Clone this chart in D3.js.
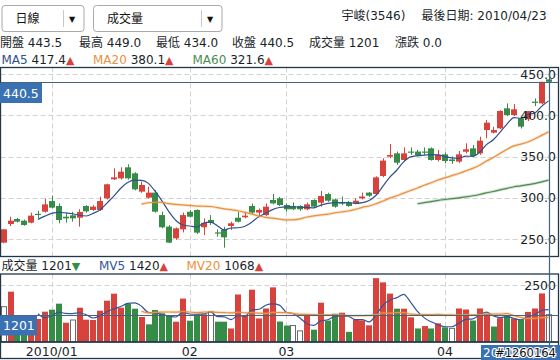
<!DOCTYPE html>
<html><head><meta charset="utf-8">
<script src="https://cdn.jsdelivr.net/npm/d3@7"></script>
<style>
html,body{margin:0;padding:0;background:#fff;}
svg{display:block;font-family:"DejaVu Sans","Noto Sans CJK TC",sans-serif;}
</style></head><body>
<svg id="c" width="560" height="360"></svg>
<script>
// ---------------- data ----------------
const dates = [
 "2009/12/23","2009/12/24","2009/12/25","2009/12/28","2009/12/29","2009/12/30","2009/12/31",
 "2010/01/04","2010/01/05","2010/01/06","2010/01/07","2010/01/08","2010/01/11","2010/01/12","2010/01/13","2010/01/14","2010/01/15",
 "2010/01/18","2010/01/19","2010/01/20","2010/01/21","2010/01/22","2010/01/25","2010/01/26","2010/01/27","2010/01/28","2010/01/29",
 "2010/02/01","2010/02/02","2010/02/03","2010/02/04","2010/02/05","2010/02/06","2010/02/08","2010/02/09","2010/02/10",
 "2010/02/22","2010/02/23","2010/02/24","2010/02/25","2010/02/26",
 "2010/03/01","2010/03/02","2010/03/03","2010/03/04","2010/03/05","2010/03/08","2010/03/09","2010/03/10","2010/03/11","2010/03/12",
 "2010/03/15","2010/03/16","2010/03/17","2010/03/18","2010/03/19","2010/03/22","2010/03/23","2010/03/24","2010/03/25","2010/03/26",
 "2010/03/29","2010/03/30","2010/03/31",
 "2010/04/01","2010/04/02","2010/04/06","2010/04/07","2010/04/08","2010/04/09","2010/04/12","2010/04/13","2010/04/14","2010/04/15","2010/04/16",
 "2010/04/19","2010/04/20","2010/04/21","2010/04/22","2010/04/23"];

const open = [245.6,268.2,274.2,272.2,269.8,280.5,283.1,296,290,277,
 278.7,275.8,290,285.2,285.2,299.3,322.3,323.5,336.9,329.6,
 307.4,300.1,306.2,279,265,250.8,261.7,283,285.2,264.2,
 273,258,260.9,265.8,275.8,276.3,290,282,279,297.3,
 299.3,291.2,290,290,286,297.3,294,304.5,298,294.3,
 294.4,293.2,299.3,306.2,304.5,326.4,349.8,353.8,345.8,356,
 356,356,359.9,345.8,352.6,346.5,343.8,355.8,359.9,353.8,
 382.1,378.9,384.1,408.4,400.3,396.3,395,416.5,414.4,443.5];
const high = [262,277,275.5,273.5,281.9,284.3,298.9,302.5,293.2,281,
 283,286,291,291,301.3,317,335.7,336.9,340.5,331,
 319.5,313.4,309.4,283.1,267,264,282,285,286,275,
 279,261.7,264.8,271,283.1,283,293,287,293,304.5,
 301,293,294.4,291,294,298,308.2,306,299,301.3,
 296,299.3,306.2,307,326,347.8,365.1,356,361.1,361,
 358,361,361,357.9,355,350,356.6,366,364,374,
 394.2,386,406,414.4,413.6,398,405,420.5,440.5,449];
const low = [245,265.7,270,266,269,275,282,287,269,269.8,
 271,265,282,284,284,298,321.5,322,322,309,
 306,299,282,263,245,249,258,276,256,254.8,
 267,252.8,239.5,261,270,275,280,278,278,292,
 290,283,285,284,285,288,289.2,295,288,291,
 289,292,298,301,303,325,348,340,344,352,
 350,352,345,344,342,341,342,353.8,350,352,
 372,378,383,399,399,384,393,411,413,434];
const close = [261.7,272.2,271,267,278.3,280.3,292,288,273,275,
 275,282.8,283.5,289.2,296,316.3,324.7,331.6,323.5,310.2,
 315.5,306.2,283.1,264.2,245.6,262.9,279,277,257.7,269.5,
 269.5,256.8,252,269,271,278.3,282,285.2,289.2,293.2,
 291.2,286,286,286,292,289.2,302.1,296.4,289.2,293.2,
 290,296.4,301.5,302.5,324.7,345,351.8,342.5,353.8,355,
 351.8,355,345.8,351.8,344.5,344.5,352.6,358.7,350.6,369.2,
 391,382.1,405.2,400.3,407.2,386.2,405,415,440.5,440.5];
const volume = [1554,2214,1000,900,1100,1012,1334,1422,1686,850,
 968,1510,982,968,1378,1818,2126,1510,1671,1466,
 1100,777,1407,1261,1158,894,1910,938,1210,1220,
 1325,894,894,595,2090,1180,2302,1035,1475,2404,
 900,725,725,490,1180,542,1730,945,1240,1290,
 447,1000,950,733,2810,2624,2130,1466,1466,1085,
 595,700,595,820,645,600,1475,1430,945,1475,
 1230,680,1050,1160,1035,975,1325,1475,2135,1201];

const priceTicks = [250, 300, 350, 400, 450];
const volumeTicks = [2500];
const monthTickDates = ["2010/01/04","2010/02/01","2010/03/01","2010/04/01"];
const monthTickLabels = ["2010/01","02","03","04"];
const maPeriods = [5, 20, 60];
const maNames = ["MA5","MA20","MA60"];
const maLegendValues = ["417.4","380.1","321.6"];
const mvPeriods = [5, 20];
const mvNames = ["MV5","MV20"];
const mvLegendValues = ["1420","1068"];
const stockName = "宇峻(3546)";
const lastDateLabel = "最後日期: 2010/04/23";
const periodOptions = ["日線"];
const indicatorOptions = ["成交量"];
const watermark = "#1260164";

// ---------------- style ----------------
const RED = "#d8423c", GREEN = "#358c47", BORDER = "#22364a", CROSS = "#45657f", BLUE_BOX = "#3a71b2";
const maColors = ["#2f4f8f", "#e8913e", "#4c8c50"];
const mvColors = ["#34549a", "#e8913e"];
const TXT = "#1b1f2a";

const svg = d3.select("#c");
const N = dates.length;
const last = N - 1;

const x = d3.scaleBand().domain(d3.range(N)).range([0, 552]).paddingInner(0.18).paddingOuter(0.09);
const cx = i => x(i) + x.bandwidth() / 2;
const y = d3.scaleLinear().domain([250, 450]).range([239, 74]);
const yv = d3.scaleLinear().domain([0, 2992]).range([342, 274]);

const P = {top: 67.5, bottom: 256.5, left: 0.5, right: 558.5};
const V = {top: 274, bottom: 342};

function movingAvg(arr, n) {
  const out = [];
  for (let i = n; i < arr.length; i++) {
    out.push({i, v: d3.mean(arr.slice(i - n + 1, i + 1))});
  }
  return out;
}

// ---------------- header ----------------
function dropdown(x0, w, sepX, label) {
  const g = svg.append("g");
  g.append("rect").attr("x", x0 + 0.5).attr("y", 5.5).attr("width", w).attr("height", 26).attr("rx", 3)
    .attr("fill", "#fff").attr("stroke", "#a9a9a9");
  g.append("line").attr("x1", sepX).attr("x2", sepX).attr("y1", 10).attr("y2", 27).attr("stroke", "#c8c8c8");
  g.append("text").attr("x", x0 + 14).attr("y", 23).attr("font-size", 12).attr("fill", "#111").text(label);
  g.append("text").attr("x", sepX + 8.5).attr("y", 22).attr("text-anchor", "middle").attr("font-size", 8).attr("fill", "#111").text("▼");
}
dropdown(1.5, 82, 63.5, periodOptions[0]);
dropdown(93, 128.5, 201.5, indicatorOptions[0]);

svg.append("text").attr("x", 341.5).attr("y", 19.5).attr("font-size", 12).attr("fill", TXT).text(stockName);
svg.append("text").attr("x", 421.5).attr("y", 19.5).attr("font-size", 12).attr("fill", TXT).text(lastDateLabel);

const quoteItems = [
  ["開盤", open[last].toFixed(1), 0],
  ["最高", high[last].toFixed(1), 79],
  ["最低", low[last].toFixed(1), 156],
  ["收盤", close[last].toFixed(1), 232],
  ["成交量", String(volume[last]), 309],
  ["漲跌", (close[last] - close[last - 1]).toFixed(1), 395]
];
quoteItems.forEach(([k, v, px]) => {
  svg.append("text").attr("x", px).attr("y", 46.5).attr("font-size", 12).attr("fill", TXT).text(k + " " + v);
});

const maLegendX = [1.5, 93, 192.5];
maNames.forEach((nm, k) => {
  const t = svg.append("text").attr("x", maLegendX[k]).attr("y", 64).attr("font-size", 12);
  t.append("tspan").attr("fill", maColors[k]).text(nm + " ");
  t.append("tspan").attr("fill", TXT).text(maLegendValues[k]);
  t.append("tspan").attr("fill", RED).attr("font-size", 11).text("▲");
});

// volume header
{
  const t = svg.append("text").attr("x", 1.5).attr("y", 270).attr("font-size", 12);
  t.append("tspan").attr("fill", TXT).text(indicatorOptions[0] + " " + volume[last]);
  t.append("tspan").attr("fill", GREEN).attr("font-size", 11).text("▼");
  const mvX = [99, 186.5];
  mvNames.forEach((nm, k) => {
    const tt = svg.append("text").attr("x", mvX[k]).attr("y", 270).attr("font-size", 12);
    tt.append("tspan").attr("fill", mvColors[k]).text(nm + " ");
    tt.append("tspan").attr("fill", TXT).text(mvLegendValues[k]);
    tt.append("tspan").attr("fill", RED).attr("font-size", 11).text("▲");
  });
}

// ---------------- panels ----------------
const defs = svg.append("defs");
defs.append("clipPath").attr("id", "clipP").append("rect")
  .attr("x", P.left).attr("y", P.top).attr("width", P.right - P.left).attr("height", P.bottom - P.top);
defs.append("clipPath").attr("id", "clipV").append("rect")
  .attr("x", P.left).attr("y", V.top).attr("width", P.right - P.left).attr("height", V.bottom - V.top);

const monthIdx = monthTickDates.map(d => dates.indexOf(d));

// grid: price
const gp = svg.append("g").attr("clip-path", "url(#clipP)");
gp.selectAll(".hg").data(priceTicks).join("line")
  .attr("x1", P.left).attr("x2", P.right).attr("y1", d => Math.round(y(d)) + 0.5).attr("y2", d => Math.round(y(d)) + 0.5)
  .attr("stroke", "#d2d2d2").attr("stroke-dasharray", "5,3");
gp.selectAll(".vg").data(monthIdx).join("line")
  .attr("x1", d => Math.round(cx(d)) + 0.5).attr("x2", d => Math.round(cx(d)) + 0.5).attr("y1", P.top).attr("y2", P.bottom)
  .attr("stroke", "#d2d2d2").attr("stroke-dasharray", "5,3");

// grid: volume
const gv = svg.append("g").attr("clip-path", "url(#clipV)");
gv.selectAll(".hg").data(volumeTicks).join("line")
  .attr("x1", P.left).attr("x2", P.right).attr("y1", d => Math.round(yv(d)) + 0.5).attr("y2", d => Math.round(yv(d)) + 0.5)
  .attr("stroke", "#d2d2d2").attr("stroke-dasharray", "5,3");
gv.selectAll(".vg").data(monthIdx).join("line")
  .attr("x1", d => Math.round(cx(d)) + 0.5).attr("x2", d => Math.round(cx(d)) + 0.5).attr("y1", V.top).attr("y2", V.bottom)
  .attr("stroke", "#d2d2d2").attr("stroke-dasharray", "5,3");

// candles
const idx = d3.range(N);
const candleColor = i => close[i] > open[i] ? RED : (close[i] < open[i] ? GREEN : (i > 0 && close[i] < close[i-1] ? GREEN : RED));
gp.selectAll(".wick").data(idx).join("line")
  .attr("x1", i => Math.round(cx(i)) + 0.5).attr("x2", i => Math.round(cx(i)) + 0.5)
  .attr("y1", i => y(high[i])).attr("y2", i => y(low[i]))
  .attr("stroke", candleColor).attr("stroke-width", 1);
gp.selectAll(".body").data(idx).join("rect")
  .attr("x", i => Math.round(x(i))).attr("width", Math.round(x.bandwidth()))
  .attr("y", i => y(Math.max(open[i], close[i])))
  .attr("height", i => Math.max(1.2, Math.abs(y(open[i]) - y(close[i]))))
  .attr("fill", candleColor);

// MA lines
maPeriods.forEach((n, k) => {
  const pts = movingAvg(close, n);
  const line = d3.line().x(d => cx(d.i)).y(d => y(d.v)).curve(d3.curveMonotoneX);
  if (k > 0) {
    gp.append("path").datum(pts).attr("d", line).attr("fill", "none")
      .attr("stroke", maColors[k]).attr("stroke-opacity", 0.25).attr("stroke-width", 3);
  }
  gp.append("path").datum(pts).attr("d", line).attr("fill", "none")
    .attr("stroke", maColors[k]).attr("stroke-width", 1.2);
});

// volume bars
const volColor = i => (i === 0 || close[i] === close[i-1]) ? "flat" : (close[i] > close[i-1] ? "up" : "down");
gv.selectAll(".vb").data(idx).join("rect")
  .attr("x", i => Math.round(x(i)) + (volColor(i) === "flat" ? 0.5 : 0))
  .attr("width", i => Math.round(x.bandwidth()) - (volColor(i) === "flat" ? 1 : 0))
  .attr("y", i => yv(volume[i]))
  .attr("height", i => yv(0) - yv(volume[i]))
  .attr("fill", i => ({up: RED, down: GREEN, flat: "#fff"})[volColor(i)])
  .attr("stroke", i => volColor(i) === "flat" ? "#6a6a6a" : "none")
  .attr("stroke-width", 1);

mvPeriods.forEach((n, k) => {
  const pts = movingAvg(volume, n);
  const line = d3.line().x(d => cx(d.i)).y(d => yv(d.v)).curve(d3.curveMonotoneX);
  if (k > 0) {
    gv.append("path").datum(pts).attr("d", line).attr("fill", "none")
      .attr("stroke", mvColors[k]).attr("stroke-opacity", 0.25).attr("stroke-width", 3);
  }
  gv.append("path").datum(pts).attr("d", line).attr("fill", "none")
    .attr("stroke", mvColors[k]).attr("stroke-width", 1.2);
});

// right axis labels
svg.selectAll(".pl").data(priceTicks).join("text")
  .attr("x", 556).attr("y", d => y(d) + 4.5).attr("text-anchor", "end").attr("font-size", 12.5).attr("fill", TXT)
  .text(d => d.toFixed(1));
svg.selectAll(".vl").data(volumeTicks).join("text")
  .attr("x", 556).attr("y", d => yv(d) + 4.5).attr("text-anchor", "end").attr("font-size", 12.5).attr("fill", TXT)
  .text(d => d);

// month labels
svg.selectAll(".ml").data(monthIdx).join("text")
  .attr("x", d => cx(d)).attr("y", 356).attr("text-anchor", "middle").attr("font-size", 12.5).attr("fill", TXT)
  .text((d, k) => monthTickLabels[k]);

// borders
[[P.top, P.bottom], [V.top, V.bottom], [V.bottom, 358.5]].forEach(([t, b]) => {
  svg.append("rect").attr("x", P.left).attr("y", t).attr("width", P.right - P.left).attr("height", b - t)
    .attr("fill", "none").attr("stroke", BORDER).attr("stroke-width", 1.3);
});

// crosshair
const xc = Math.round(cx(last)) + 0.5;
svg.append("line").attr("x1", xc).attr("x2", xc).attr("y1", P.top).attr("y2", V.bottom + 3)
  .attr("stroke", CROSS).attr("stroke-width", 1.2);
const yc = Math.round(y(close[last])) + 0.5;
svg.append("line").attr("x1", P.left).attr("x2", P.right).attr("y1", yc).attr("y2", yc).attr("stroke", CROSS).attr("stroke-width", 1.2);
const yvc = Math.round(yv(volume[last])) + 0.5;
svg.append("line").attr("x1", P.left).attr("x2", P.right).attr("y1", yvc).attr("y2", yvc).attr("stroke", CROSS).attr("stroke-width", 1.2);

// crosshair labels
svg.append("rect").attr("x", 0).attr("y", yc + 0.5).attr("width", 42).attr("height", 20).attr("fill", BLUE_BOX);
svg.append("text").attr("x", 3).attr("y", yc + 15).attr("font-size", 12.5).attr("fill", "#fff").text(close[last].toFixed(1));
svg.append("rect").attr("x", 0).attr("y", yvc).attr("width", 37).attr("height", 20).attr("fill", BLUE_BOX);
svg.append("text").attr("x", 3).attr("y", yvc + 14.5).attr("font-size", 12.5).attr("fill", "#fff").text(volume[last]);
svg.append("rect").attr("x", 481).attr("y", 345).attr("width", 79).attr("height", 15).attr("fill", BLUE_BOX);
svg.append("text").attr("x", 483).attr("y", 357).attr("font-size", 12).attr("fill", "#fff").text(dates[last]);
svg.append("text").attr("x", 495).attr("y", 357).attr("font-size", 11.5)
  .attr("fill", "#111").attr("stroke", "#fff").attr("stroke-width", 2.2).attr("paint-order", "stroke").text(watermark);
</script>
</body></html>
